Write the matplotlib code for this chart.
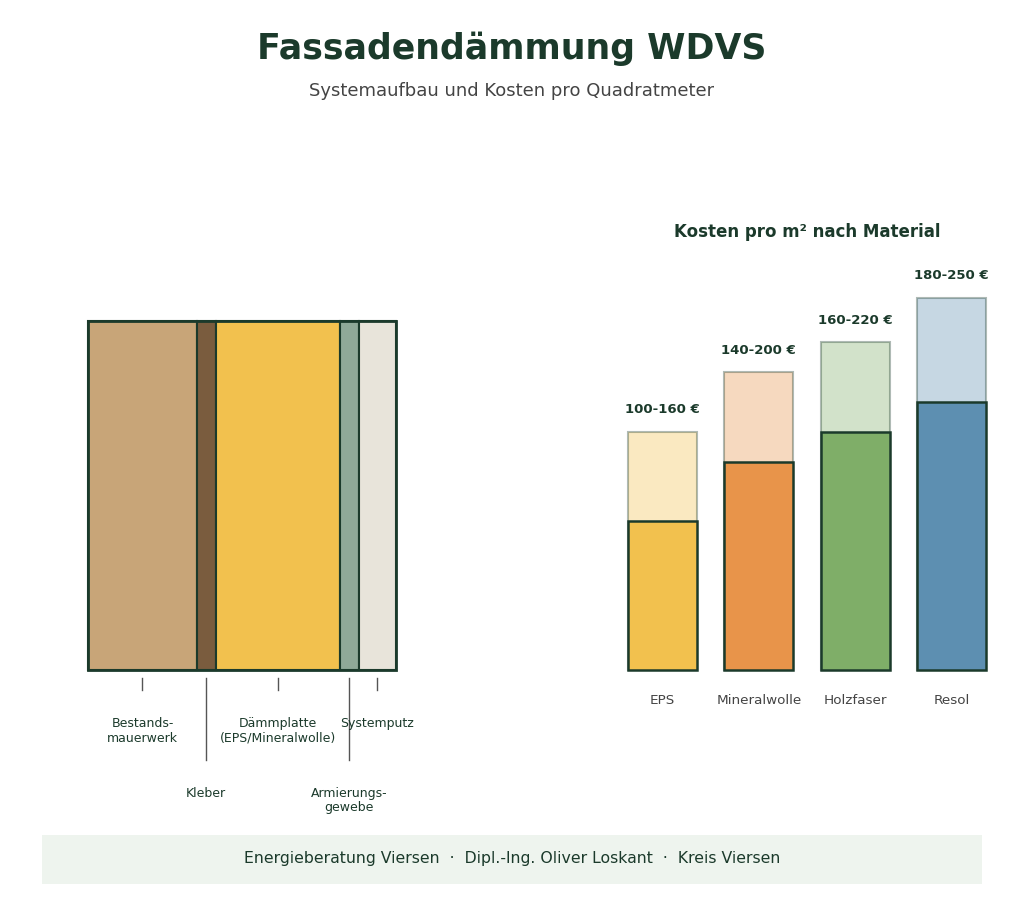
import matplotlib.pyplot as plt
from matplotlib.patches import Rectangle

# Wall build-up (layer thickness, relative)
layers = ["Bestands-\nmauerwerk", "Kleber", "Dämmplatte\n(EPS/Mineralwolle)", "Armierungs-\ngewebe", "Systemputz"]
layer_thick = [3.5, 0.6, 4.0, 0.6, 1.2]
layer_colors = ["#c8a578", "#7a5c3e", "#f2c14e", "#8fa998", "#e8e4da"]
layer_low = [False, True, False, True, False]  # labels on the second row

# Costs per m2
materials = ["EPS", "Mineralwolle", "Holzfaser", "Resol"]
cost_min = [100, 140, 160, 180]
cost_max = [160, 200, 220, 250]
mat_colors = ["#f2c14e", "#e8944a", "#7fae68", "#5d8fb1"]

dark = "#1b3a2b"
gray = "#444444"

fig = plt.figure(figsize=(10.24, 9.15), dpi=100)

fig.text(0.5, 0.947, "Fassadendämmung WDVS", ha="center", va="center",
         fontsize=25, fontweight="bold", color=dark)
fig.text(0.5, 0.900, "Systemaufbau und Kosten pro Quadratmeter", ha="center", va="center",
         fontsize=13, color=gray)

# left: layer diagram
ax1 = fig.add_axes([88 / 1024, 245 / 915, 308 / 1024, 349 / 915])
total = sum(layer_thick)
ax1.set_xlim(0, total)
ax1.set_ylim(0, 1)
ax1.axis("off")
x0 = 0
for name, t, c, low in zip(layers, layer_thick, layer_colors, layer_low):
    ax1.add_patch(Rectangle((x0, 0), t, 1, facecolor=c, edgecolor=dark, lw=1.5, clip_on=False))
    xc = x0 + t / 2
    if low:
        ax1.plot([xc, xc], [-0.023, -0.258], color="#555555", lw=1, clip_on=False)
        ax1.text(xc, -0.335, name, ha="center", va="top", fontsize=9,
                 color=dark, linespacing=1.15, clip_on=False)
    else:
        ax1.plot([xc, xc], [-0.023, -0.057], color="#555555", lw=1, clip_on=False)
        ax1.text(xc, -0.135, name, ha="center", va="top", fontsize=9,
                 color=dark, linespacing=1.15, clip_on=False)
    x0 += t
ax1.add_patch(Rectangle((0, 0), total, 1, fill=False, edgecolor=dark, lw=2, clip_on=False))

# right: cost bars
ax2 = fig.add_axes([614 / 1024, 245 / 915, 386 / 1024, 402 / 915])
pos = range(len(materials))
ax2.bar(pos, cost_max, width=0.72, color=mat_colors, alpha=0.35, edgecolor=dark, lw=1.5, clip_on=False)
ax2.bar(pos, cost_min, width=0.72, color=mat_colors, edgecolor=dark, lw=1.8, clip_on=False)
for i, (lo, hi) in enumerate(zip(cost_min, cost_max)):
    ax2.annotate(f"{lo}-{hi} €", (i, hi), xytext=(0, 11), textcoords="offset points",
                 ha="center", va="bottom", fontsize=9.5, fontweight="bold", color=dark)
ax2.set_xlim(-0.5, 3.5)
ax2.set_ylim(0, 270)
ax2.set_xticks(list(pos))
ax2.set_xticklabels(materials, fontsize=9.7, color=gray)
ax2.tick_params(axis="x", length=0, pad=17)
ax2.set_yticks([])
for s in ax2.spines.values():
    s.set_visible(False)
ax2.set_title("Kosten pro m² nach Material", fontsize=12, fontweight="bold",
              color=dark, pad=22)

# footer
fig.patches.append(Rectangle((42 / 1024, 31 / 915), 940 / 1024, 49 / 915,
                             transform=fig.transFigure, facecolor="#eef4ee", edgecolor="none"))
fig.text(0.5, 56 / 915, "Energieberatung Viersen  ·  Dipl.-Ing. Oliver Loskant  ·  Kreis Viersen",
         ha="center", va="center", fontsize=11.3, color=dark)

fig.savefig("out.png", dpi=100, facecolor="white")
